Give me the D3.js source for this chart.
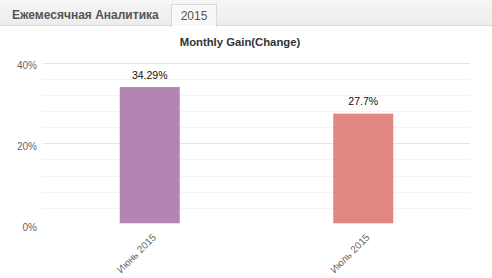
<!DOCTYPE html>
<html><head><meta charset="utf-8">
<script src="https://cdn.jsdelivr.net/npm/d3@7/dist/d3.min.js"></script>
<style>
html,body{margin:0;padding:0;background:#fff;}
svg{display:block;font-family:"Liberation Sans",Arial,sans-serif;}
</style></head>
<body>
<svg id="c" width="492" height="278"></svg>
<script>
(function(){
const categories = ["Июнь 2015", "Июль 2015"];
const values = [34.29, 27.7];
const valueLabels = ["34.29%", "27.7%"];
const colors = ["#b485b3", "#e18682"];
const yTicks = [0, 20, 40];
const yMinorTicks = [4, 8, 12, 16, 24, 28, 32, 36];
const chartTitle = "Monthly Gain(Change)";
const tabTitle = "Ежемесячная Аналитика";
const tabLabel = "2015";

const svg = d3.select("#c");
const W = 492, H = 278;

const defs = svg.append("defs");
const g1 = defs.append("linearGradient").attr("id","tabbg").attr("x1",0).attr("y1",0).attr("x2",0).attr("y2",1);
g1.append("stop").attr("offset","0%").attr("stop-color","#f6f6f6");
g1.append("stop").attr("offset","100%").attr("stop-color","#ececec");
svg.append("rect").attr("x",0).attr("y",0).attr("width",W).attr("height",25).attr("fill","url(#tabbg)");
svg.append("line").attr("x1",0).attr("x2",W).attr("y1",25.5).attr("y2",25.5).attr("stroke","#d9d9d9");
svg.append("text").attr("x",12).attr("y",19).attr("font-size",12).attr("font-weight","bold").attr("fill","#555").text(tabTitle);
svg.append("rect").attr("x",171.5).attr("y",4.5).attr("width",45).attr("height",22).attr("fill","#f8f8f8").attr("stroke","#d9d9d9");
svg.append("rect").attr("x",172).attr("y",25).attr("width",44).attr("height",2).attr("fill","#fff");
svg.append("text").attr("x",194).attr("y",20).attr("text-anchor","middle").attr("font-size",12).attr("fill","#555").text(tabLabel);

const mLeft = 43, mRight = 470, mTop = 62.5, mBottom = 224;
const x = d3.scaleBand().domain(categories).range([mLeft, mRight]);
const y = d3.scaleLinear().domain([0, 40]).range([mBottom, mTop]);

svg.append("text").attr("x",240).attr("y",46).attr("text-anchor","middle").attr("font-size",11.3).attr("font-weight","bold").attr("fill","#333").text(chartTitle);

svg.append("g").selectAll("line").data(yMinorTicks).join("line")
  .attr("x1",mLeft).attr("x2",mRight).attr("y1",d=>Math.round(y(d))+0.5).attr("y2",d=>Math.round(y(d))+0.5)
  .attr("stroke","#f4f4f4");
svg.append("g").selectAll("line").data(yTicks.filter(d=>d>0)).join("line")
  .attr("x1",mLeft).attr("x2",mRight).attr("y1",d=>Math.round(y(d))+0.5).attr("y2",d=>Math.round(y(d))+0.5)
  .attr("stroke","#e4e4e4");

const yAxis = d3.axisLeft(y).tickValues(yTicks).tickFormat(d=>d+"%").tickSize(0).tickPadding(6);
const ya = svg.append("g").attr("transform",`translate(${mLeft},0)`).call(yAxis);
ya.select(".domain").remove();
ya.selectAll("text").attr("font-size",10).attr("fill","#666").attr("font-family","Liberation Sans, Arial, sans-serif").attr("dy","0.6em");

const bw = 60;
svg.append("g").selectAll("rect").data(values).join("rect")
  .attr("x",(d,i)=>x(categories[i])+x.bandwidth()/2-bw/2)
  .attr("width",bw)
  .attr("y",d=>y(d)+1.5)
  .attr("height",d=>mBottom-0.7-y(d)-1.5)
  .attr("fill",(d,i)=>colors[i]);

svg.append("g").selectAll("text").data(values).join("text")
  .attr("x",(d,i)=>x(categories[i])+x.bandwidth()/2)
  .attr("y",d=>y(d)-7)
  .attr("text-anchor","middle").attr("font-size",10.5).attr("fill","#111")
  .text((d,i)=>valueLabels[i]);

const xAxis = d3.axisBottom(x).tickSize(0).tickPadding(0);
const xa = svg.append("g").attr("transform",`translate(0,${mBottom})`).call(xAxis);
xa.select(".domain").remove();
xa.selectAll("text")
  .attr("font-size",10).attr("fill","#666").attr("font-family","Liberation Sans, Arial, sans-serif")
  .attr("text-anchor","end").attr("dy",0).attr("y",0)
  .attr("transform","translate(7,14) rotate(-45)");
})();
</script>
</body></html>
